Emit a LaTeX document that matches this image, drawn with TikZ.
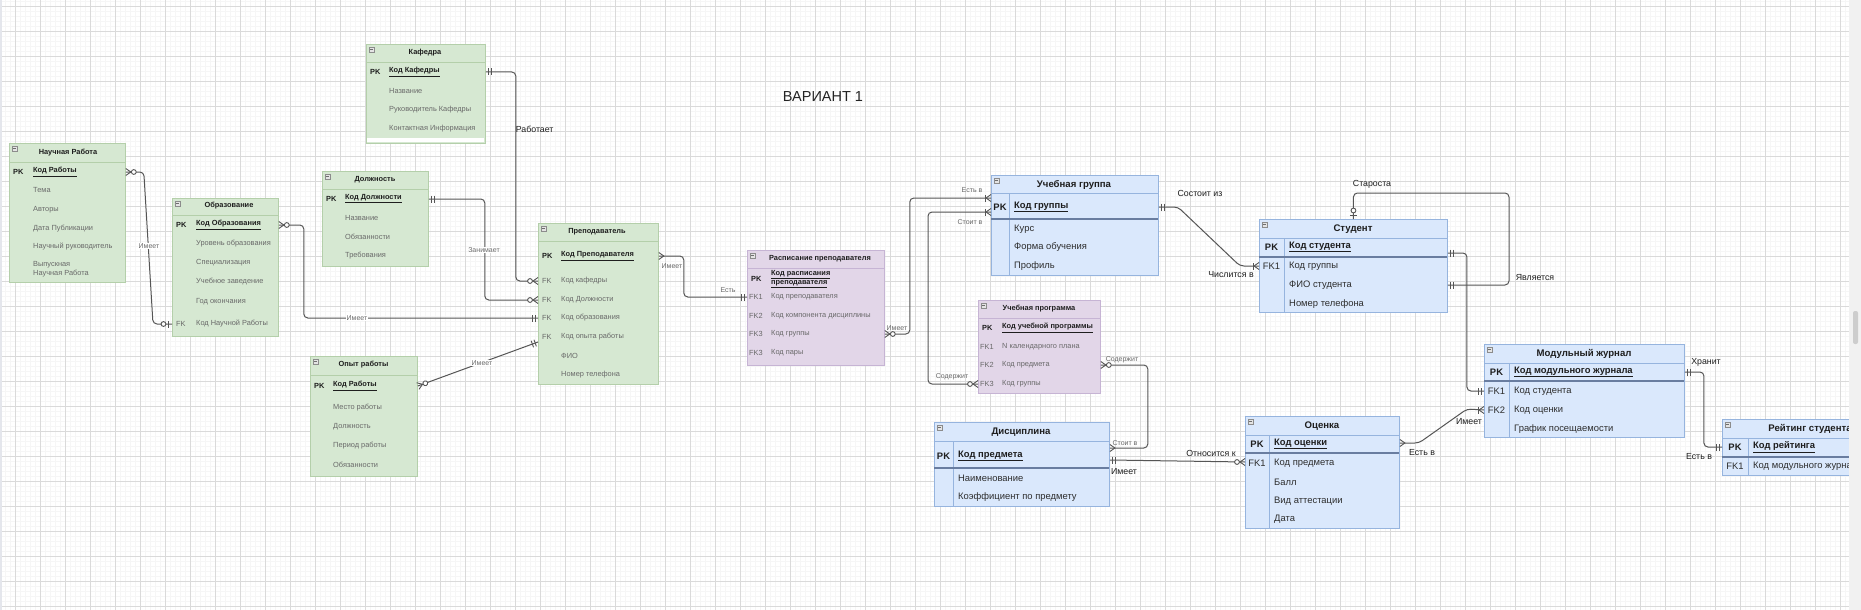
\documentclass[tikz,border=0pt]{standalone}
\usepackage{fontspec}
\setmainfont{Liberation Sans}
\usetikzlibrary{calc}
\definecolor{gfill}{RGB}{214,232,210}
\definecolor{gline}{RGB}{180,207,170}
\definecolor{pfill}{RGB}{226,214,232}
\definecolor{pline}{RGB}{198,180,212}
\definecolor{bfill}{RGB}{218,232,252}
\definecolor{bline}{RGB}{150,180,222}
\definecolor{bdark}{RGB}{105,125,160}
\definecolor{cline}{RGB}{85,85,85}
\definecolor{txtd}{RGB}{30,30,30}
\definecolor{txtb}{RGB}{45,45,45}
\definecolor{txtg}{RGB}{105,105,105}
\definecolor{txtt}{RGB}{35,35,35}
\definecolor{gridmin}{RGB}{246,246,246}
\definecolor{gridmaj}{RGB}{218,218,218}
\definecolor{icondraw}{RGB}{140,140,140}
\definecolor{iconfill}{RGB}{228,228,228}
\definecolor{iconminus}{RGB}{110,110,110}
\definecolor{leftstrip}{RGB}{228,230,236}
\definecolor{scrollbg}{RGB}{241,241,241}
\definecolor{scrollth}{RGB}{205,205,205}
\tikzset{
  gbox/.style={draw=gline, fill=gfill, line width=0.8pt, inner sep=0pt, anchor=north west},
  pbox/.style={draw=pline, fill=pfill, line width=0.8pt, inner sep=0pt, anchor=north west},
  bbox/.style={draw=bline, fill=bfill, line width=0.9pt, inner sep=0pt, anchor=north west},
  icon/.style={draw=icondraw, fill=iconfill, line width=0.5pt},
  ttl/.style={inner sep=0pt, text=txtd, font=\bfseries\fontsize{7.4}{8.5}\selectfont},
  ttlb/.style={inner sep=0pt, text=txtd, font=\bfseries\fontsize{9.6}{11}\selectfont},
  gat/.style={anchor=west, inner sep=0pt, text=txtg, font=\fontsize{7.4}{8.5}\selectfont},
  gpk/.style={anchor=west, inner sep=0pt, text=txtd, font=\bfseries\fontsize{7.4}{8.5}\selectfont},
  gkey/.style={anchor=west, inner sep=0pt, text=txtd, font=\bfseries\fontsize{7.4}{8.5}\selectfont},
  gfk/.style={anchor=west, inner sep=0pt, text=txtg, font=\fontsize{7.4}{8.5}\selectfont},
  bat/.style={anchor=west, inner sep=0pt, text=txtb, font=\fontsize{9.4}{11}\selectfont},
  bpk/.style={anchor=west, inner sep=0pt, text=txtd, font=\bfseries\fontsize{9.4}{11}\selectfont},
  bkey/.style={inner sep=0pt, text=txtd, font=\bfseries\fontsize{9.4}{11}\selectfont},
  bfk/.style={inner sep=0pt, text=txtb, font=\fontsize{9.4}{11}\selectfont},
  conn/.style={draw=cline, line width=1pt, rounded corners=4pt},
  mk/.style={draw=cline, line width=0.9pt},
  lsm/.style={inner sep=0.6pt, text=txtg, font=\fontsize{7}{8}\selectfont},
  lsmf/.style={lsm, fill=white},
  lbg/.style={inner sep=0.6pt, text=txtd, font=\fontsize{8.8}{10}\selectfont},
  ermany/.pic={\draw[mk] (0,-3.5) -- (5,0) -- (0,3.5);},
  ermanyzero/.pic={\draw[mk] (0,-3.5) -- (5,0) -- (0,3.5); \draw[mk, fill=white] (8,0) circle (2.4);},
  ermanyone/.pic={\draw[mk] (0,-3.5) -- (5,0) -- (0,3.5); \draw[mk] (6,-3.5) -- (6,3.5);},
  erone/.pic={\draw[mk] (3,-3.5) -- (3,3.5) (6,-3.5) -- (6,3.5);},
  eronezero/.pic={\draw[mk] (3.5,-3.5) -- (3.5,3.5); \draw[mk, fill=white] (8.5,0) circle (2.4);}
}
\newcommand{\ertab}[6]{%
  \pgfmathsetmacro\ertw{#5-#3}\pgfmathsetmacro\erth{#6-#4}%
  \node[#1, minimum width=\ertw pt, minimum height=\erth pt] (#2) at (#3,#4) {};%
  \draw[icon] (#3+3,#4+3) rectangle (#3+8,#4+8);%
  \draw[draw=iconminus, line width=0.6pt] (#3+4.2,#4+5.5) -- (#3+6.8,#4+5.5);}
\begin{document}
\begin{tikzpicture}[x=1pt,y=-1pt]
\useasboundingbox (0,0) rectangle (1861,610);
\fill[white] (0,0) rectangle (1861,610);
% grid
\foreach \x in {0,5,...,1850} \draw[gridmin, line width=0.5pt] (\x,0) -- (\x,610);
\foreach \y in {1,6,...,610} \draw[gridmin, line width=0.5pt] (0,\y) -- (1849,\y);
\foreach \x in {15,40,...,1849} \draw[gridmaj, line width=0.7pt] (\x,0) -- (\x,610);
\foreach \y in {6,31,...,610} \draw[gridmaj, line width=0.7pt] (0,\y) -- (1849,\y);
\fill[leftstrip] (0,0) rectangle (2,610);

% title
\node[inner sep=0pt, text=txtt, font=\fontsize{14.5}{16}\selectfont] (title) at (823,97) {ВАРИАНТ 1};

% ---------- Научная Работа
\ertab{gbox}{nr}{9}{143}{125}{282}
\draw[gline, line width=0.8pt] (9,162) -- (125,162);
\node[ttl] (nrT) at (68,153) {Научная Работа};
\node[gkey] (nrK) at (13,172) {PK};
\node[gpk] (nr1) at (33,172) {\underline{Код Работы}};
\node[gat] (nr2) at (33,190) {Тема};
\node[gat] (nr3) at (33,210) {Авторы};
\node[gat] (nr4) at (33,229) {Дата Публикации};
\node[gat] (nr5) at (33,247) {Научный руководитель};
\node[gat, align=left] (nr6) at (33,269) {Выпускная\\Научная Работа};

% ---------- Образование
\ertab{gbox}{ob}{172}{198}{278}{336}
\draw[gline, line width=0.8pt] (172,215) -- (278,215);
\node[ttl] (obT) at (229,206) {Образование};
\node[gkey] (obK) at (176,225) {PK};
\node[gpk] (ob1) at (196,225) {\underline{Код Образования}};
\node[gat] (ob2) at (196,244) {Уровень образования};
\node[gat] (ob3) at (196,263) {Специализация};
\node[gat] (ob4) at (196,282) {Учебное заведение};
\node[gat] (ob5) at (196,302) {Год окончания};
\node[gfk] (obF) at (176,324) {FK};
\node[gat] (ob6) at (196,324) {Код Научной Работы};

% ---------- Кафедра
\ertab{gbox}{kf}{366}{44}{485}{143}
\draw[gline, line width=0.8pt] (366,62) -- (485,62);
\fill[white] (366.6,138) rectangle (484.4,142);
\node[ttl] (kfT) at (425,53) {Кафедра};
\node[gkey] (kfK) at (370,72) {PK};
\node[gpk] (kf1) at (389,72) {\underline{Код Кафедры}};
\node[gat] (kf2) at (389,91) {Название};
\node[gat] (kf3) at (389,110) {Руководитель Кафедры};
\node[gat] (kf4) at (389,129) {Контактная Информация};

% ---------- Должность
\ertab{gbox}{dl}{322}{171}{428}{266}
\draw[gline, line width=0.8pt] (322,189) -- (428,189);
\node[ttl] (dlT) at (375,180) {Должность};
\node[gkey] (dlK) at (326,199) {PK};
\node[gpk] (dl1) at (345,199) {\underline{Код Должности}};
\node[gat] (dl2) at (345,218) {Название};
\node[gat] (dl3) at (345,237) {Обязанности};
\node[gat] (dl4) at (345,256) {Требования};

% ---------- Опыт работы
\ertab{gbox}{op}{310}{356}{417}{476}
\draw[gline, line width=0.8pt] (310,375) -- (417,375);
\node[ttl] (opT) at (363.5,365) {Опыт работы};
\node[gkey] (opK) at (314,386) {PK};
\node[gpk] (op1) at (333,386) {\underline{Код Работы}};
\node[gat] (op2) at (333,408) {Место работы};
\node[gat] (op3) at (333,427) {Должность};
\node[gat] (op4) at (333,446) {Период работы};
\node[gat] (op5) at (333,465) {Обязанности};

% ---------- Преподаватель
\ertab{gbox}{pr}{538}{223}{658}{384}
\draw[gline, line width=0.8pt] (538,241) -- (658,241);
\node[ttl] (prT) at (597,232) {Преподаватель};
\node[gkey] (prK) at (542,256) {PK};
\node[gpk] (pr1) at (561,256) {\underline{Код Преподавателя}};
\node[gfk] (prF2) at (542,281) {FK};
\node[gat] (pr2) at (561,281) {Код кафедры};
\node[gfk] (prF3) at (542,300) {FK};
\node[gat] (pr3) at (561,300) {Код Должности};
\node[gfk] (prF4) at (542,318) {FK};
\node[gat] (pr4) at (561,318) {Код образования};
\node[gfk] (prF5) at (542,337) {FK};
\node[gat] (pr5) at (561,337) {Код опыта работы};
\node[gat] (pr6) at (561,356) {ФИО};
\node[gat] (pr7) at (561,375) {Номер телефона};

% ---------- Расписание преподавателя
\ertab{pbox}{rp}{747}{250}{884}{365}
\draw[pline, line width=0.8pt] (747,268) -- (884,268);
\node[ttl] (rpT) at (820,259) {Расписание преподавателя};
\node[gkey] (rpK) at (751,279) {PK};
\node[gpk, align=left] (rp1) at (771,279) {\underline{Код расписания}\\\underline{преподавателя}};
\node[gfk] (rpF2) at (749,297) {FK1};
\node[gat] (rp2) at (771,297) {Код преподавателя};
\node[gfk] (rpF3) at (749,316) {FK2};
\node[gat] (rp3) at (771,316) {Код компонента дисциплины};
\node[gfk] (rpF4) at (749,334) {FK3};
\node[gat] (rp4) at (771,334) {Код группы};
\node[gfk] (rpF5) at (749,353) {FK3};
\node[gat] (rp5) at (771,353) {Код пары};

% ---------- Учебная программа
\ertab{pbox}{upr}{978}{300}{1100}{393}
\draw[pline, line width=0.8pt] (978,318) -- (1100,318);
\node[ttl] (uprT) at (1039,309) {Учебная программа};
\node[gkey] (uprK) at (982,328) {PK};
\node[gpk] (upr1) at (1002,328) {\underline{Код учебной программы}};
\node[gfk] (uprF2) at (980,347) {FK1};
\node[gat] (upr2) at (1002,347) {N календарного плана};
\node[gfk] (uprF3) at (980,365) {FK2};
\node[gat] (upr3) at (1002,365) {Код предмета};
\node[gfk] (uprF4) at (980,384) {FK3};
\node[gat] (upr4) at (1002,384) {Код группы};

% ---------- Учебная группа
\ertab{bbox}{ug}{991}{175}{1158}{275}
\draw[bline, line width=0.9pt] (991,193) -- (1158,193);
\draw[bline, line width=0.9pt] (1009,193) -- (1009,275);
\draw[bdark, line width=1.2pt] (991,219) -- (1158,219);
\node[ttlb] (ugT) at (1074,185) {Учебная группа};
\node[bkey] (ugK) at (1000,207) {PK};
\node[bpk] (ug1) at (1014,207) {\underline{Код группы}};
\node[bat] (ug2) at (1014,229) {Курс};
\node[bat] (ug3) at (1014,247) {Форма обучения};
\node[bat] (ug4) at (1014,266) {Профиль};

% ---------- Дисциплина
\ertab{bbox}{ds}{934}{422}{1109}{506}
\draw[bline, line width=0.9pt] (934,441) -- (1109,441);
\draw[bline, line width=0.9pt] (953,441) -- (953,506);
\draw[bdark, line width=1.2pt] (934,468) -- (1109,468);
\node[ttlb] (dsT) at (1021,432) {Дисциплина};
\node[bkey] (dsK) at (943.5,456) {PK};
\node[bpk] (ds1) at (958,456) {\underline{Код предмета}};
\node[bat] (ds2) at (958,478) {Наименование};
\node[bat] (ds3) at (958,497) {Коэффициент по предмету};

% ---------- Оценка
\ertab{bbox}{oc}{1245}{416}{1399}{528}
\draw[bline, line width=0.9pt] (1245,435) -- (1399,435);
\draw[bline, line width=0.9pt] (1269,435) -- (1269,528);
\draw[bdark, line width=1.2pt] (1245,453) -- (1399,453);
\node[ttlb] (ocT) at (1322,426) {Оценка};
\node[bkey] (ocK) at (1257,444) {PK};
\node[bpk] (oc1) at (1274,444) {\underline{Код оценки}};
\node[bfk] (ocF2) at (1257,463) {FK1};
\node[bat] (oc2) at (1274,463) {Код предмета};
\node[bat] (oc3) at (1274,482) {Балл};
\node[bat] (oc4) at (1274,501) {Вид аттестации};
\node[bat] (oc5) at (1274,519) {Дата};

% ---------- Студент
\ertab{bbox}{st}{1259}{219}{1447}{312}
\draw[bline, line width=0.9pt] (1259,238) -- (1447,238);
\draw[bline, line width=0.9pt] (1284,238) -- (1284,312);
\draw[bdark, line width=1.2pt] (1259,257) -- (1447,257);
\node[ttlb] (stT) at (1353,229) {Студент};
\node[bkey] (stK) at (1271.5,247) {PK};
\node[bpk] (st1) at (1289,247) {\underline{Код студента}};
\node[bfk] (stF2) at (1271.5,266) {FK1};
\node[bat] (st2) at (1289,266) {Код группы};
\node[bat] (st3) at (1289,285) {ФИО студента};
\node[bat] (st4) at (1289,304) {Номер телефона};

% ---------- Модульный журнал
\ertab{bbox}{mj}{1484}{344}{1684}{437}
\draw[bline, line width=0.9pt] (1484,363) -- (1684,363);
\draw[bline, line width=0.9pt] (1509,363) -- (1509,437);
\draw[bdark, line width=1.2pt] (1484,381) -- (1684,381);
\node[ttlb] (mjT) at (1584,354) {Модульный журнал};
\node[bkey] (mjK) at (1496.5,372) {PK};
\node[bpk] (mj1) at (1514,372) {\underline{Код модульного журнала}};
\node[bfk] (mjF2) at (1496.5,391) {FK1};
\node[bat] (mj2) at (1514,391) {Код студента};
\node[bfk] (mjF3) at (1496.5,410) {FK2};
\node[bat] (mj3) at (1514,410) {Код оценки};
\node[bat] (mj4) at (1514,429) {График посещаемости};

% ---------- Рейтинг студента (clipped by the window edge)
\begin{scope}
\clip (0,0) rectangle (1849,610);
\ertab{bbox}{rs}{1722}{419}{1898}{475}
\draw[bline, line width=0.9pt] (1722,438) -- (1898,438);
\draw[bline, line width=0.9pt] (1748,438) -- (1748,475);
\draw[bdark, line width=1.2pt] (1722,457) -- (1898,457);
\node[ttlb] (rsT) at (1810,429) {Рейтинг студента};
\node[bkey] (rsK) at (1735,447) {PK};
\node[bpk] (rs1) at (1753,447) {\underline{Код рейтинга}};
\node[bfk] (rsF2) at (1735,466) {FK1};
\node[bat] (rs2) at (1753,466) {Код модульного журнала};
\end{scope}
\fill[scrollbg] (1849,0) rectangle (1861,610);
\fill[scrollth, rounded corners=2pt] (1853,311) rectangle (1858,344);

% ================= connectors
% C1 Научная Работа -> Образование
\draw[conn] (nr.east |- nr1) -- ++(18,0) -- (153,324) -- (ob.west |- ob6);
\pic at (nr.east |- nr1) {ermanyzero};
\pic[rotate=180] at (ob.west |- ob6) {eronezero};
\node[lsmf] (l1) at (149,246) {Имеет};
% C2 Образование -> Преподаватель
\draw[conn] (ob.east |- ob1) -- ++(25,0) |- (pr.west |- pr4);
\pic at (ob.east |- ob1) {ermanyzero};
\pic[rotate=180] at (pr.west |- pr4) {erone};
\node[lsmf] (l2) at (357,318) {Имеет};
% C3 Кафедра -> Преподаватель
\draw[conn] (kf.east |- kf1) -- ++(30,0) |- (pr.west |- pr2);
\pic at (kf.east |- kf1) {erone};
\pic[rotate=180] at (pr.west |- pr2) {ermanyzero};
\node[lbg, anchor=west] (l3) at (515,129) {Работает};
% C4 Должность -> Преподаватель
\draw[conn] (dl.east |- dl1) -- ++(56,0) |- (pr.west |- pr3);
\pic at (dl.east |- dl1) {erone};
\pic[rotate=180] at (pr.west |- pr3) {ermanyzero};
\node[lsmf] (l4) at (484,250) {Занимает};
% C5 Опыт работы -> Преподаватель
\draw[conn] (op.east |- op1) -- (pr.west |- 0,342);
\pic[rotate=20] at (op.east |- op1) {ermanyzero};
\pic[rotate=200] at (pr.west |- 0,342) {erone};
\node[lsmf] (l5) at (482,363) {Имеет};
% C6 Преподаватель -> Расписание
\draw[conn] (pr.east |- pr1) -- ++(25,0) |- (rp.west |- rp2);
\pic at (pr.east |- pr1) {ermany};
\pic[rotate=180] at (rp.west |- rp2) {erone};
\node[lsm] (l6) at (672,266) {Имеет};
\node[lsm] (l7) at (728,290) {Есть};
% C7 Расписание -> Учебная группа
\draw[conn] (rp.east |- rp4) -- ++(25,0) |- (ug.west |- 0,198);
\pic at (rp.east |- rp4) {ermanyzero};
\pic[rotate=180] at (ug.west |- 0,198) {ermanyone};
\node[lsm] (l8) at (897,328) {Имеет};
\node[lsm] (l9) at (972,190) {Есть в};
% C8 Учебная группа -> Учебная программа
\draw[conn] (ug.west |- 0,212) -- ++(-63,0) |- (upr.west |- upr4);
\pic[rotate=180] at (ug.west |- 0,212) {ermanyone};
\pic[rotate=180] at (upr.west |- upr4) {ermanyzero};
\node[lsm] (l10) at (970,222) {Стоит в};
\node[lsm] (l11) at (952,377) {Содержит};
% C9 Учебная программа -> Дисциплина
\draw[conn] (upr.east |- upr3) -- ++(47,0) |- (ds.east |- 0,448);
\pic at (upr.east |- upr3) {ermanyzero};
\pic at (ds.east |- 0,448) {ermany};
\node[lsm] (l12) at (1122,360) {Содержит};
\node[lsm] (l13) at (1125,443) {Стоит в};
% C10 Дисциплина -> Оценка
\draw[conn] (ds.east |- 0,460) -- (oc.west |- 0,462);
\pic at (ds.east |- 0,460) {erone};
\pic[rotate=180] at (oc.west |- 0,462) {ermanyzero};
\node[lbg] (l14) at (1211,453) {Относится к};
\node[lbg] (l15) at (1124,472) {Имеет};
% C11 Оценка -> Модульный журнал
\draw[conn] (oc.east |- 0,443) -- ++(19,0) -- (1467,409) -- (mj.west |- mj3);
\pic at (oc.east |- 0,443) {ermany};
\pic[rotate=180] at (mj.west |- mj3) {ermanyone};
\node[lbg] (l16) at (1422,453) {Есть в};
\node[lbg] (l17) at (1469,422) {Имеет};
% C12 Учебная группа -> Студент
\draw[conn] (ug.east |- ug1) -- ++(19,0) -- (1240,266) -- (st.west |- st2);
\pic at (ug.east |- ug1) {erone};
\pic[rotate=180] at (st.west |- st2) {ermanyone};
\node[lbg] (l18) at (1200,193) {Состоит из};
\node[lbg] (l19) at (1231,275) {Числится в};
% C13 Студент -> Модульный журнал
\draw[conn] (st.east |- 0,253) -- ++(19,0) |- (mj.west |- mj2);
\pic at (st.east |- 0,253) {erone};
\pic[rotate=180] at (mj.west |- mj2) {erone};
% C14 Студент -> Студент (Староста)
\draw[conn] (st.north) |- (1509,193) |- (st.east |- st3);
\pic[rotate=90] at (st.north) {eronezero};
\pic at (st.east |- st3) {erone};
\node[lbg] (l20) at (1372,184) {Староста};
\node[lbg, anchor=west] (l21) at (1515,278) {Является};
% C15 Модульный журнал -> Рейтинг студента
\draw[conn] (mj.east |- mj1) -- ++(19,0) |- (rs.west |- rs1);
\pic at (mj.east |- mj1) {erone};
\pic[rotate=180] at (rs.west |- rs1) {erone};
\node[lbg] (l22) at (1706,362) {Хранит};
\node[lbg] (l23) at (1699,457) {Есть в};
\end{tikzpicture}
\end{document}
